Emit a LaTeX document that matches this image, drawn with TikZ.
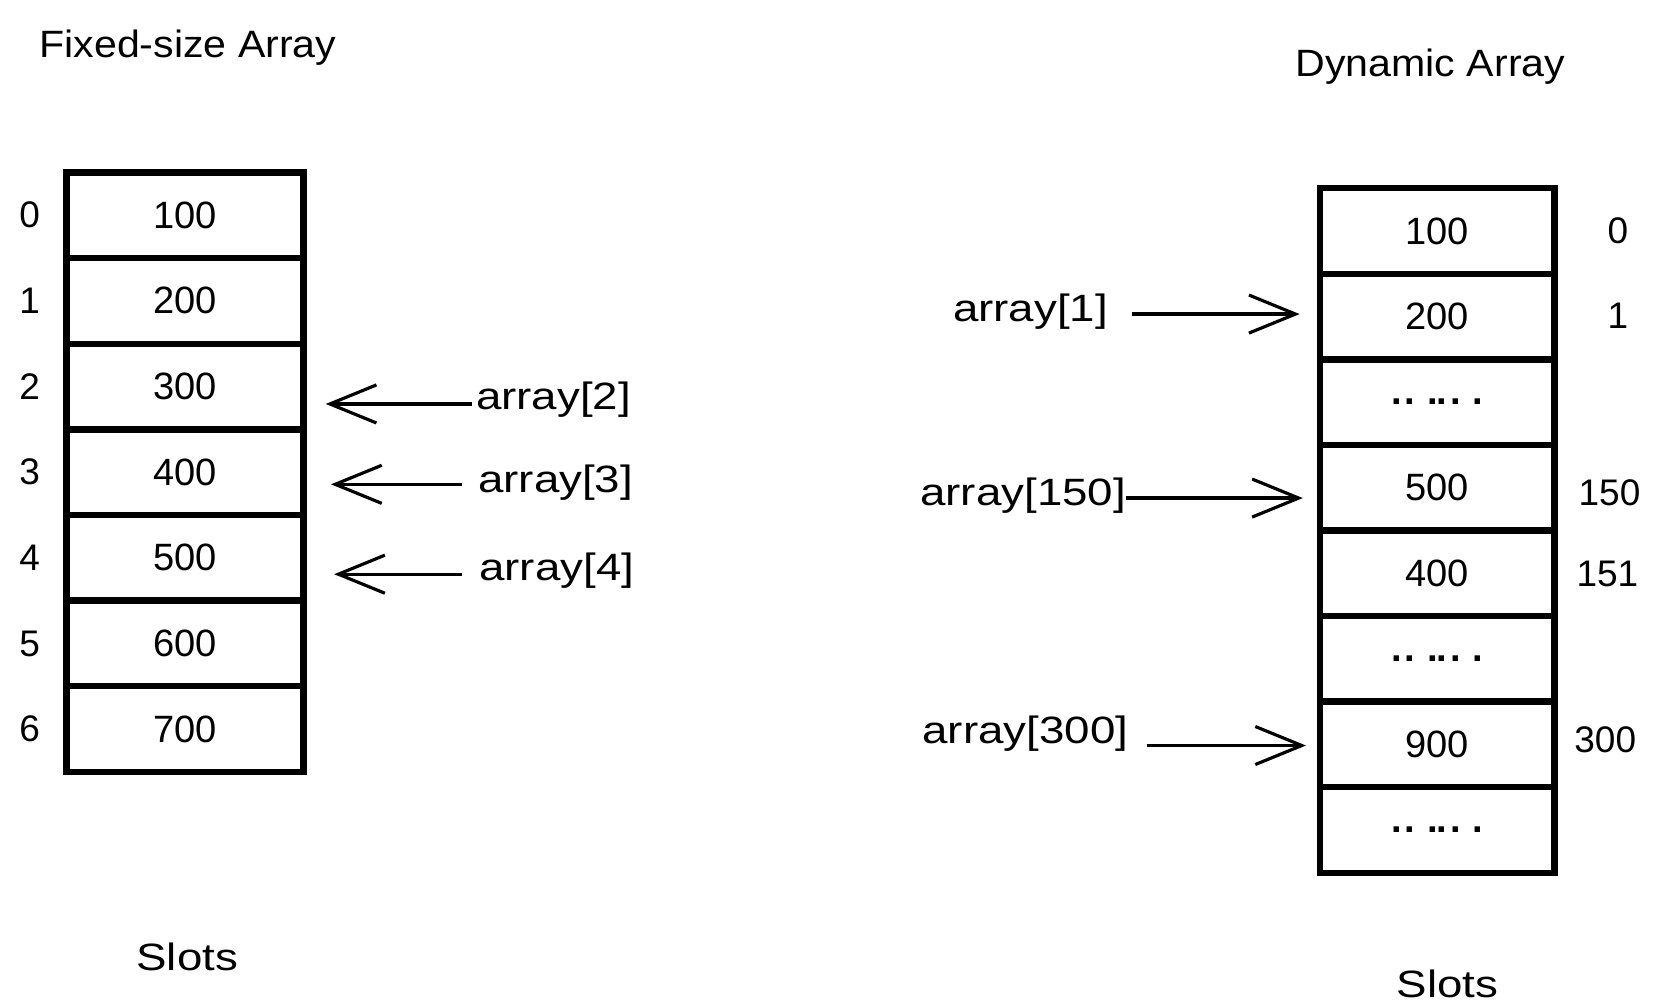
\documentclass[tikz,border=0pt]{standalone}
\usepackage{fontspec}
\setmainfont{Liberation Sans}
\newfontfamily\wfont[FakeStretch=1.2]{Liberation Sans}
\newfontfamily\tfont[FakeStretch=1.08]{Liberation Sans}
\usetikzlibrary{arrows.meta,calc}
\newcommand{\mydots}{{\bfseries .\kern3pt.\kern11pt.\kern-1pt.\kern3pt.\kern11pt.}}
\begin{document}
\begin{tikzpicture}[x=1pt,y=-1pt,
  cellL/.style={draw,line width=6pt,minimum width=224pt,minimum height=81pt,inner sep=0pt,font=\fontsize{36}{42}\selectfont},
  cellR/.style={draw,line width=6pt,minimum width=222pt,minimum height=81pt,inner sep=0pt,font=\fontsize{36}{42}\selectfont},
  idx/.style={inner sep=0pt,font=\fontsize{35}{41}\selectfont},
  lbl/.style={inner sep=0pt,font=\fontsize{36}{42}\wfont},
  ttl/.style={inner sep=0pt,font=\fontsize{36}{42}\tfont},
  arr/.style={line width=3pt,-{Straight Barb[length=44pt,width=36pt,line width=3pt]}}
]
\useasboundingbox (0,0) rectangle (1566,949);
\fill[white] (0,0) rectangle (1566,949);

% titles
\node[ttl,anchor=west] (t1) at (37,45) {Fixed-size Array};
\node[ttl,anchor=west] (t2) at (1225,63) {Dynamic Array};

% left array
\foreach \v [count=\i from 0] in {100,200,300,400,500,600,700}{
  \node[cellL] (L\i) at (175,{203.5+81*\i}) {\v};
  \node[idx] (LI\i) at (28,{203.5+81*\i}) {\i};
}
\node[lbl] (s1) at (177,905) {Slots};

% left pointers
\node[lbl,anchor=west] (a2) at (450,378) {array[2]};
\node[lbl,anchor=west] (a3) at (452,456) {array[3]};
\node[lbl,anchor=west] (a4) at (453,540) {array[4]};
\coordinate (p2) at ([xshift=-4pt,yshift=-4pt]a2.west);
\coordinate (p3) at ([xshift=-15pt,yshift=-2pt]a3.west);
\coordinate (p4) at ([xshift=-16pt,yshift=-3pt]a4.west);
\draw[arr] (p2) -- ($(L2.east |- p2)+(18,0)$);
\draw[arr] (p3) -- ($(L3.east |- p3)+(23,0)$);
\draw[arr] (p4) -- ($(L4.east |- p4)+(26,0)$);

% right array
\foreach \v [count=\i from 0] in {100,200,\mydots,500,400,\mydots,900,\mydots}{
  \node[cellR] (R\i) at (1359,{218.5+80.9*\i}) {\v};
}
\node[idx] (RI0) at (1530,218) {0};
\node[idx] (RI1) at (1530,299) {1};
\node[idx] (RI3) at (1522,466) {150};
\node[idx] (RI4) at (1520,543) {151};
\node[idx] (RI6) at (1518,700) {300};
\node[lbl] (s2) at (1369,930) {Slots};

% right pointers
\node[lbl,anchor=east] (b1) at (1048,295) {array[1]};
\node[lbl,anchor=east] (b150) at (1065,469) {array[150]};
\node[lbl,anchor=east] (b300) at (1067,694) {array[300]};
\coordinate (q1) at ([xshift=22pt,yshift=-2pt]b1.east);
\coordinate (q150) at ([xshift=0pt,yshift=-2pt]b150.east);
\coordinate (q300) at ([xshift=18pt,yshift=-11pt]b300.east);
\draw[arr] (q1) -- ($(R1.west |- q1)+(-16,0)$);
\draw[arr] (q150) -- ($(R3.west |- q150)+(-13,0)$);
\draw[arr] (q300) -- ($(R6.west |- q300)+(-10,0)$);
\end{tikzpicture}
\end{document}
